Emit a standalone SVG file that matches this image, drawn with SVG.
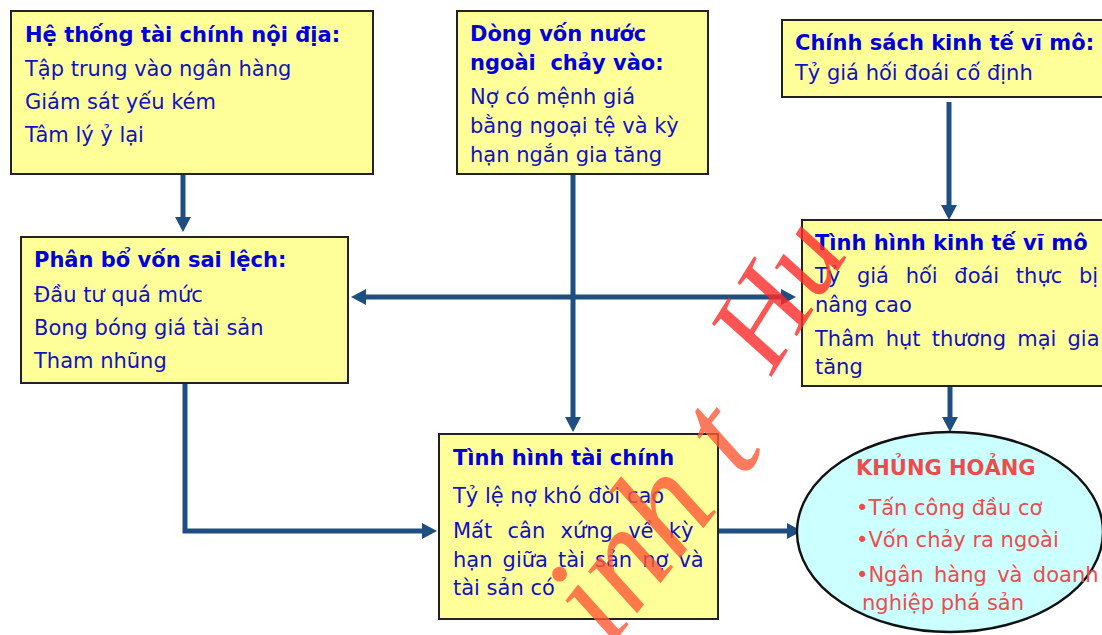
<svg xmlns="http://www.w3.org/2000/svg" width="1102" height="635" viewBox="0 0 1102 635">
<defs>
<style>
.box{fill:#FFFF99;stroke:#222222;stroke-width:2}
.ell{fill:#CCFFFF;stroke:#111111;stroke-width:2.4}
.t{font-family:"DejaVu Sans","Liberation Sans",sans-serif;font-size:21px;fill:#1111C4}
.h{font-family:"DejaVu Sans","Liberation Sans",sans-serif;font-size:21px;font-weight:bold;fill:#0000DD}
.r{font-family:"DejaVu Sans","Liberation Sans",sans-serif;font-size:21px;fill:#F04B4B}
.rh{font-family:"DejaVu Sans","Liberation Sans",sans-serif;font-size:21px;font-weight:bold;fill:#F04B4B}
.c{fill:none;stroke:#1F4F80;stroke-width:5}
.wm{font-family:"Liberation Serif",serif;font-style:italic;opacity:0.8}
</style>
<marker id="ah" markerUnits="userSpaceOnUse" markerWidth="16" markerHeight="16" refX="3" refY="8" orient="auto-start-reverse" viewBox="0 0 16 16">
<path d="M0,0 L15,8 L0,16 z" fill="#1F4F80"/>
</marker>
</defs>

<g id="connectors">
<line class="c" x1="183" y1="175" x2="183" y2="220" marker-end="url(#ah)"/>
<line class="c" x1="573" y1="175" x2="573" y2="420" marker-end="url(#ah)"/>
<line class="c" x1="949" y1="102" x2="949" y2="208" marker-end="url(#ah)"/>
<line class="c" x1="363" y1="297" x2="784" y2="297" marker-start="url(#ah)" marker-end="url(#ah)"/>
<polyline class="c" points="185,384 185,531 425,531" marker-end="url(#ah)"/>
<line class="c" x1="719" y1="531" x2="790" y2="531" marker-end="url(#ah)"/>
<line class="c" x1="950" y1="387" x2="950" y2="420" marker-end="url(#ah)"/>
</g>

<g id="node-he-thong">
<rect class="box" x="11" y="11" width="362" height="163"/>
<text class="h" x="25" y="42">Hệ thống tài chính nội địa:</text>
<text class="t" x="25" y="76">Tập trung vào ngân hàng</text>
<text class="t" x="25" y="109">Giám sát yếu kém</text>
<text class="t" x="25" y="142">Tâm lý ỷ lại</text>
</g>

<g id="node-dong-von">
<rect class="box" x="457" y="11" width="251" height="163"/>
<text class="h" x="470" y="41">Dòng vốn nước</text>
<text class="h" x="470" y="70" xml:space="preserve">ngoài  chảy vào:</text>
<text class="t" x="470" y="104">Nợ có mệnh giá</text>
<text class="t" x="470" y="133">bằng ngoại tệ và kỳ</text>
<text class="t" x="470" y="162">hạn ngắn gia tăng</text>
</g>

<g id="node-chinh-sach">
<rect class="box" x="782" y="20" width="330" height="77"/>
<text class="h" x="795" y="50">Chính sách kinh tế vĩ mô:</text>
<text class="t" x="795" y="80">Tỷ giá hối đoái cố định</text>
</g>

<g id="node-phan-bo">
<rect class="box" x="21" y="237" width="327" height="146"/>
<text class="h" x="34" y="267">Phân bổ vốn sai lệch:</text>
<text class="t" x="34" y="302">Đầu tư quá mức</text>
<text class="t" x="34" y="335">Bong bóng giá tài sản</text>
<text class="t" x="34" y="368">Tham nhũng</text>
</g>

<g id="node-kinh-te">
<rect class="box" x="802" y="220" width="310" height="166"/>
<text class="h" x="815" y="250">Tình hình kinh tế vĩ mô</text>
<text class="t" x="815" y="283" word-spacing="10">Tỷ giá hối đoái thực bị</text>
<text class="t" x="815" y="312">nâng cao</text>
<text class="t" x="815" y="346" word-spacing="4.5">Thâm hụt thương mại gia</text>
<text class="t" x="815" y="374">tăng</text>
</g>

<g id="node-tai-chinh">
<rect class="box" x="439" y="434" width="279" height="185"/>
<text class="h" x="453" y="465">Tình hình tài chính</text>
<text class="t" x="453" y="503">Tỷ lệ nợ khó đòi cao</text>
<text class="t" x="453" y="538" word-spacing="8.6">Mất cân xứng về kỳ</text>
<text class="t" x="453" y="567" word-spacing="3.4">hạn giữa tài sản nợ và</text>
<text class="t" x="453" y="595">tài sản có</text>
</g>

<g id="node-khung-hoang">
<ellipse class="ell" cx="950" cy="532" rx="153" ry="100"/>
<text class="rh" x="856" y="475">KHỦNG HOẢNG</text>
<text class="r" x="856" y="515">•Tấn công đầu cơ</text>
<text class="r" x="856" y="547">•Vốn chảy ra ngoài</text>
<text class="r" x="856" y="582" word-spacing="3.7">•Ngân hàng và doanh</text>
<text class="r" x="862" y="610">nghiệp phá sản</text>
</g>

<g id="watermark">
<text class="wm" font-size="140" fill="#FF5A35" transform="translate(610,648) rotate(-52)">inh t</text>
<text class="wm" font-size="120" fill="#FF2A2A" transform="translate(772,376) rotate(-58)">Hu</text>
</g>
</svg>
